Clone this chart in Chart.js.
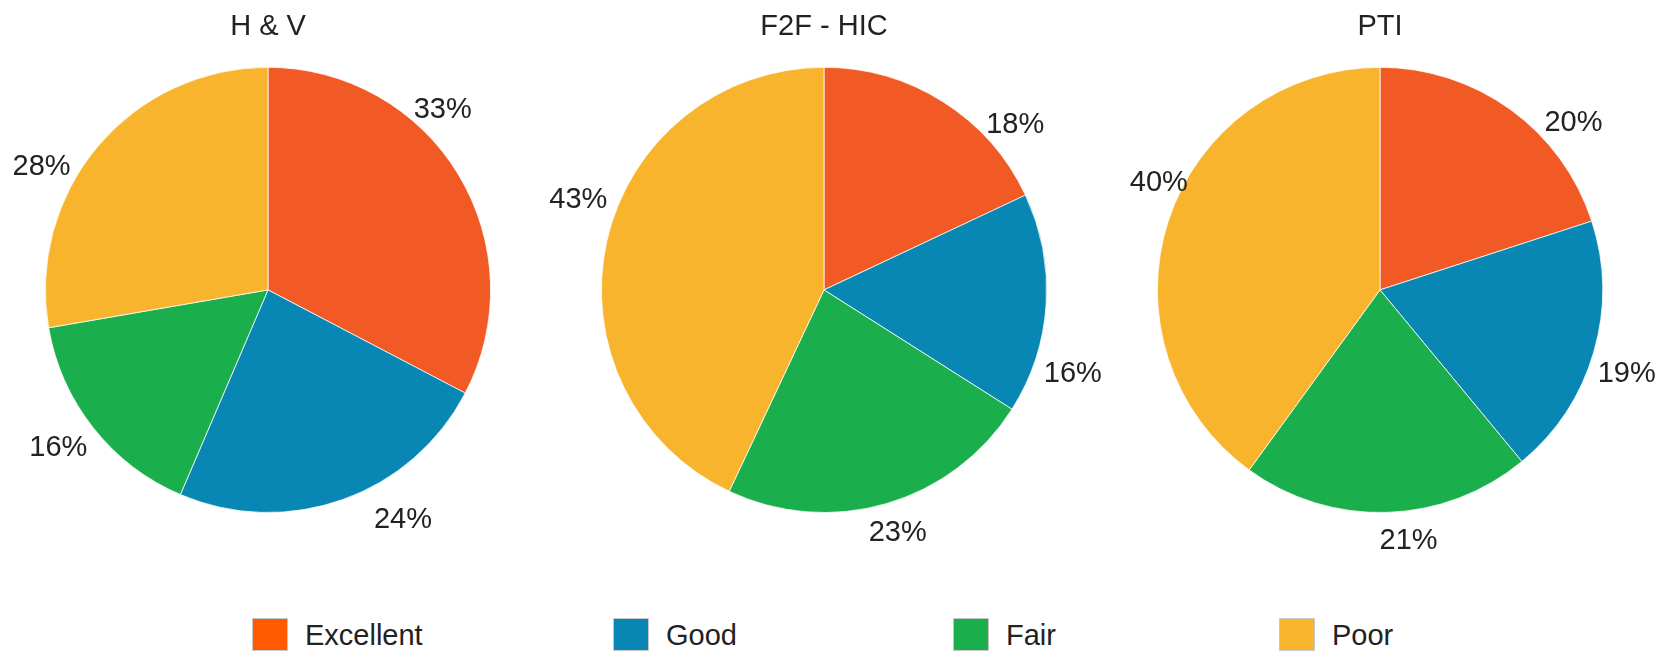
<!DOCTYPE html>
<html>
<head>
<meta charset="utf-8">
<script src="https://cdn.jsdelivr.net/npm/chart.js@4/dist/chart.umd.min.js"></script>
<style>
  html, body { margin:0; padding:0; background:#fff; }
  body { width:1663px; height:653px; overflow:hidden; position:relative; font-family:"Liberation Sans", Arial, sans-serif; }
  .pie { position:absolute; top:0; }
  .leg { position:absolute; top:618px; height:34px; }
  .leg .box { position:absolute; left:0; top:0; width:36px; height:33px; border:1px solid #c8c8c8; box-sizing:border-box; }
  .leg .txt { position:absolute; left:53px; top:0; font-size:29px; line-height:34px; color:#222; white-space:nowrap; }
</style>
</head>
<body>
<script>
// ---- data ----
const categories = ['Excellent', 'Good', 'Fair', 'Poor'];
const chartTitles = ['H & V', 'F2F - HIC', 'PTI'];
const hvValues  = [33, 24, 16, 28];
const f2fValues = [18, 16, 23, 43];
const ptiValues = [20, 19, 21, 40];

// ---- styles / layout ----
const sliceColors  = ['#F15A24', '#0887B4', '#1BAE4D', '#F8B42D'];
const legendColors = ['#FF5A00', '#0887B4', '#1BAE4D', '#F8B42D'];
const pieCentersX = [268, 824, 1380];
const legendLefts = [252, 613, 953, 1279];
// label placement tweaks: angle shift (deg) from slice mid-angle, radial gap beyond the rim
const labelShift = [[-14.6, -10.8, 1.3, -11.6], [16.8, 15, -0.7, 7.5], [13.2, 2.6, -4.7, 7.8]];
const labelGap   = [[28, 44, 40, 35], [30, 40, 31, 39], [33, 38, 30, 23]];

const FONT = '"Liberation Sans", Arial, sans-serif';
const W = 560, H = 570;

const outsideLabels = {
  id: 'outsideLabels',
  afterDatasetsDraw(chart, args, opts) {
    const ctx = chart.ctx;
    const meta = chart.getDatasetMeta(0);
    const data = chart.data.datasets[0].data;
    ctx.save();
    ctx.font = '29px ' + FONT;
    ctx.fillStyle = '#222';
    ctx.textAlign = 'center';
    ctx.textBaseline = 'middle';
    meta.data.forEach((arc, i) => {
      const p = arc.getProps(['x', 'y', 'startAngle', 'endAngle', 'outerRadius'], true);
      const a = (p.startAngle + p.endAngle) / 2 + (opts.shift[i] || 0) * Math.PI / 180;
      const d = p.outerRadius + (opts.gap[i] || 30);
      ctx.fillText(data[i] + '%', p.x + Math.cos(a) * d, p.y + Math.sin(a) * d);
    });
    ctx.restore();
  }
};

const allValues = [hvValues, f2fValues, ptiValues];

allValues.forEach((vals, k) => {
  const c = document.createElement('canvas');
  c.className = 'pie';
  c.width = W; c.height = H;
  c.style.left = (pieCentersX[k] - W / 2) + 'px';
  c.style.width = W + 'px'; c.style.height = H + 'px';
  document.body.appendChild(c);
  new Chart(c, {
    type: 'pie',
    data: {
      labels: categories,
      datasets: [{
        data: vals,
        backgroundColor: sliceColors,
        borderColor: 'rgba(255,255,255,0.75)',
        borderWidth: 1
      }]
    },
    options: {
      responsive: false,
      animation: false,
      events: [],
      layout: { padding: { top: 0, left: 0, right: 0, bottom: H - 513 } },
      plugins: {
        legend: { display: false },
        tooltip: { enabled: false },
        title: {
          display: true,
          text: chartTitles[k],
          color: '#222',
          font: { family: FONT, size: 29, weight: 'normal', lineHeight: 1.2 },
          padding: { top: 10, bottom: 22 }
        },
        outsideLabels: { shift: labelShift[k], gap: labelGap[k] }
      }
    },
    plugins: [outsideLabels]
  });
});

// HTML legend built from the category list
categories.forEach((name, i) => {
  const item = document.createElement('div');
  item.className = 'leg';
  item.style.left = legendLefts[i] + 'px';
  const box = document.createElement('div');
  box.className = 'box';
  box.style.background = legendColors[i];
  const txt = document.createElement('div');
  txt.className = 'txt';
  txt.textContent = name;
  item.appendChild(box); item.appendChild(txt);
  document.body.appendChild(item);
});
</script>
</body>
</html>
